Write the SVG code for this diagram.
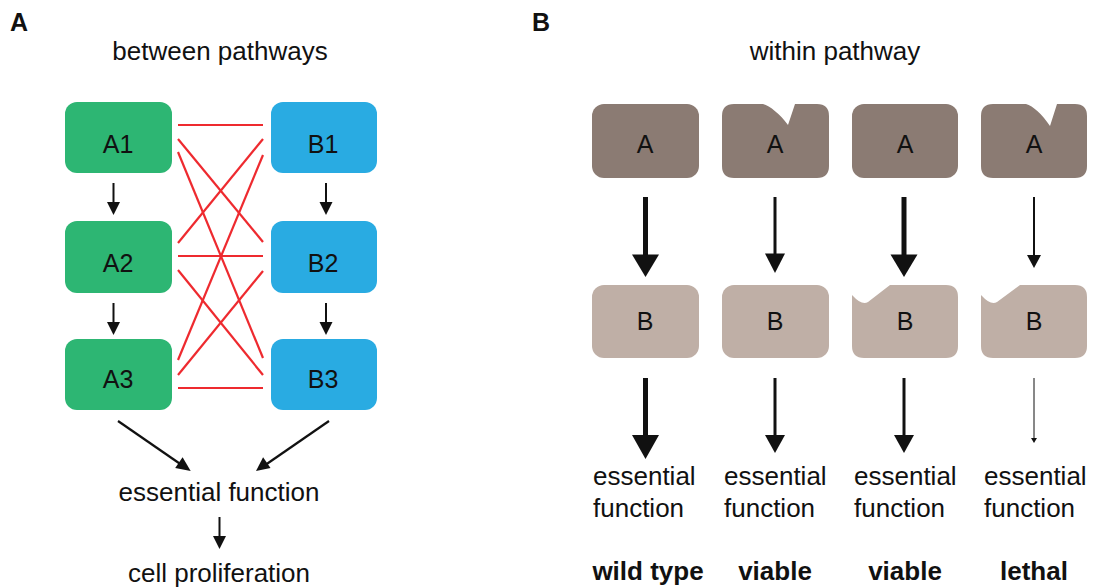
<svg xmlns="http://www.w3.org/2000/svg" width="1093" height="588" viewBox="0 0 1093 588">
<style>
text{font-family:"Liberation Sans",Arial,sans-serif;fill:#111}
.t{font-size:26px}
.lbl{font-size:25px;text-anchor:middle}
.mid{text-anchor:middle}
.b{font-weight:bold}
.grn{fill:#2db673}
.blu{fill:#29abe2}
.dk{fill:#8b7b73}
.lt{fill:#bfafa6}
.red line{stroke:#ee2a2f;stroke-width:2.2}
.ar line{stroke:#111}
.ar polygon{fill:#111}
</style>
<rect width="1093" height="588" fill="#fff"/>
<text class="b" x="10" y="31" style="font-size:25px">A</text>
<text class="b" x="532" y="31" style="font-size:25px">B</text>
<text class="t mid" x="220" y="60">between pathways</text>
<text class="t mid" x="835" y="60">within pathway</text>

<g id="A1"><rect class="grn" x="65" y="102" width="107" height="71" rx="12"/><text class="lbl" x="118" y="153">A1</text></g>
<g id="A2"><rect class="grn" x="65" y="221" width="107" height="72" rx="12"/><text class="lbl" x="118" y="272">A2</text></g>
<g id="A3"><rect class="grn" x="65" y="339" width="107" height="71" rx="12"/><text class="lbl" x="118" y="388">A3</text></g>
<g id="B1"><rect class="blu" x="271" y="102" width="106" height="71" rx="12"/><text class="lbl" x="323" y="153">B1</text></g>
<g id="B2"><rect class="blu" x="271" y="221" width="106" height="72" rx="12"/><text class="lbl" x="323" y="272">B2</text></g>
<g id="B3"><rect class="blu" x="271" y="339" width="106" height="71" rx="12"/><text class="lbl" x="323" y="388">B3</text></g>

<g id="ef-a"><text class="t mid" x="219" y="501">essential function</text></g>
<g id="cp"><text class="t mid" x="219" y="582">cell proliferation</text></g>

<g id="wt-A"><rect class="dk" x="592" y="104" width="107" height="74" rx="12"/><text class="lbl" x="645" y="153">A</text></g>
<g id="v1-A"><path class="dk" d="M734,104 H763 C770,106 780,114 788,125 L795,104 H817 Q829,104 829,116 V166 Q829,178 817,178 H734 Q722,178 722,166 V116 Q722,104 734,104 Z"/><text class="lbl" x="775" y="153">A</text></g>
<g id="v2-A"><rect class="dk" x="852" y="104" width="106" height="74" rx="12"/><text class="lbl" x="905" y="153">A</text></g>
<g id="l-A"><path class="dk" d="M993,104 H1026 C1033,106 1042,114 1050,126 L1057,104 H1075 Q1087,104 1087,116 V166 Q1087,178 1075,178 H993 Q981,178 981,166 V116 Q981,104 993,104 Z"/><text class="lbl" x="1034" y="153">A</text></g>

<g id="wt-B"><rect class="lt" x="592" y="285" width="107" height="73" rx="12"/><text class="lbl" x="645" y="330">B</text></g>
<g id="v1-B"><rect class="lt" x="722" y="285" width="107" height="73" rx="12"/><text class="lbl" x="775" y="330">B</text></g>
<g id="v2-B"><path class="lt" d="M852,295 Q862,306 868,302 L890,285 H946 Q958,285 958,297 V346 Q958,358 946,358 H864 Q852,358 852,346 Z"/><text class="lbl" x="905" y="330">B</text></g>
<g id="l-B"><path class="lt" d="M981,295 Q991,306 997,302 L1020,285 H1075 Q1087,285 1087,297 V346 Q1087,358 1075,358 H993 Q981,358 981,346 Z"/><text class="lbl" x="1034" y="330">B</text></g>

<g id="ef-wt"><text class="t" x="593" y="485">essential</text><text class="t" x="593" y="517">function</text></g>
<g id="ef-v1"><text class="t" x="724" y="485">essential</text><text class="t" x="724" y="517">function</text></g>
<g id="ef-v2"><text class="t" x="854" y="485">essential</text><text class="t" x="854" y="517">function</text></g>
<g id="ef-l"><text class="t" x="984" y="485">essential</text><text class="t" x="984" y="517">function</text></g>

<g id="lab-wt"><text class="t b mid" x="648" y="580">wild type</text></g>
<g id="lab-v1"><text class="t b mid" x="775" y="580">viable</text></g>
<g id="lab-v2"><text class="t b mid" x="905" y="580">viable</text></g>
<g id="lab-l"><text class="t b mid" x="1034" y="580">lethal</text></g>

<g id="connectors">
<g class="red">
<line x1="178" y1="125" x2="263" y2="125"/>
<line x1="178" y1="139" x2="263" y2="242"/>
<line x1="178" y1="152" x2="263" y2="358"/>
<line x1="263" y1="139" x2="178" y2="243"/>
<line x1="263" y1="155" x2="178" y2="360"/>
<line x1="178" y1="256" x2="263" y2="256"/>
<line x1="178" y1="270" x2="263" y2="375"/>
<line x1="263" y1="271" x2="178" y2="375"/>
<line x1="178" y1="388" x2="263" y2="388"/>
</g>
<g class="ar">
<line x1="113.5" y1="183" x2="113.5" y2="204" stroke-width="2"/><polygon points="107,202 120,202 113.5,215"/>
<line x1="113.5" y1="303" x2="113.5" y2="324" stroke-width="2"/><polygon points="107,322 120,322 113.5,335"/>
<line x1="326" y1="183" x2="326" y2="204" stroke-width="2"/><polygon points="319.5,202 332.5,202 326,215"/>
<line x1="326" y1="303" x2="326" y2="324" stroke-width="2"/><polygon points="319.5,322 332.5,322 326,335"/>
<line x1="118" y1="421" x2="181" y2="464.5" stroke-width="2.2"/><polygon points="190.7,471 175.2,468 182.6,457.3"/>
<line x1="329" y1="421" x2="266" y2="464.5" stroke-width="2.2"/><polygon points="256,471 263.1,457.3 270.5,468"/>
<line x1="219.5" y1="517" x2="219.5" y2="538" stroke-width="2"/><polygon points="213,536 226,536 219.5,549"/>

<line x1="645.5" y1="197" x2="645.5" y2="256" stroke-width="5"/><polygon points="632,254.5 659,254.5 645.5,277"/>
<line x1="775" y1="197" x2="775" y2="255" stroke-width="3"/><polygon points="765,253.5 785,253.5 775,273"/>
<line x1="904" y1="197" x2="904" y2="256" stroke-width="5"/><polygon points="890.5,254.5 917.5,254.5 904,277"/>
<line x1="1034" y1="197" x2="1034" y2="256" stroke-width="2"/><polygon points="1027,255 1041,255 1034,268"/>

<line x1="645.5" y1="378" x2="645.5" y2="437" stroke-width="5"/><polygon points="632,435 659,435 645.5,459"/>
<line x1="775" y1="378" x2="775" y2="437" stroke-width="3"/><polygon points="765,435 785,435 775,453"/>
<line x1="904" y1="378" x2="904" y2="437" stroke-width="3"/><polygon points="894,435 914,435 904,453"/>
<line x1="1034" y1="378" x2="1034" y2="439" stroke-width="1"/><polygon points="1031,438 1037,438 1034,443"/>
</g>
</g>
</svg>
